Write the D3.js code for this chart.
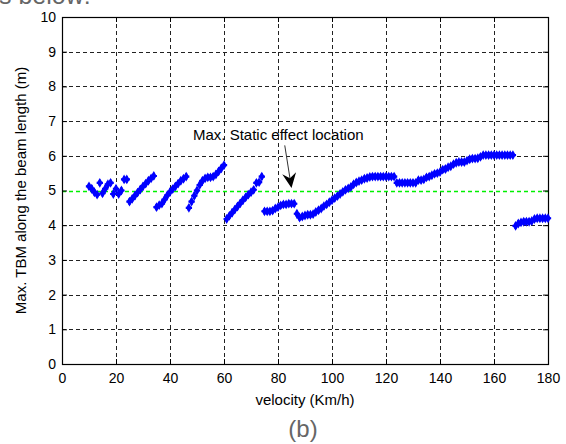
<!DOCTYPE html>
<html>
<head>
<meta charset="utf-8">
<script src="https://cdn.jsdelivr.net/npm/d3@7"></script>
<style>
  html, body { margin: 0; padding: 0; background: #fff; }
  svg { display: block; }
  text { font-family: Arial, "Liberation Sans", sans-serif; }
</style>
</head>
<body>
<svg id="chart" width="566" height="444"></svg>
<script>
// ---- data ----
const velocity = [
  10,11,12,13,14,15,16,17,18,19,20,21,22,23,24,25,26,27,28,29,
  30,31,32,33,34,35,36,37,38,39,40,41,42,43,44,45,46,47,48,49,
  50,51,52,53,54,55,56,57,58,59,60,61,62,63,64,65,66,67,68,69,
  70,71,72,73,74,75,76,77,78,79,80,81,82,83,84,85,86,87,88,89,
  90,91,92,93,94,95,96,97,98,99,100,101,102,103,104,105,106,107,108,109,
  110,111,112,113,114,115,116,117,118,119,120,121,122,123,124,125,126,127,128,129,
  130,131,132,133,134,135,136,137,138,139,140,141,142,143,144,145,146,147,148,149,
  150,151,152,153,154,155,156,157,158,159,160,161,162,163,164,165,166,167,168,169,
  170,171,172,173,174,175,176,177,178,179,180
];
const maxTBM = [
  5.12,5.05,4.95,4.88,5.22,4.92,5.05,5.18,5.22,4.90,5.05,4.90,5.00,5.32,5.32,4.68,4.76,4.85,4.94,5.03,
  5.12,5.20,5.28,5.35,5.42,4.52,4.58,4.62,4.74,4.86,4.96,5.04,5.12,5.20,5.28,5.34,5.40,4.50,4.68,4.85,
  5.00,5.16,5.28,5.35,5.38,5.38,5.40,5.46,5.55,5.64,5.73,4.18,4.27,4.36,4.45,4.54,4.63,4.72,4.80,4.88,
  4.95,5.02,5.22,5.24,5.40,4.40,4.40,4.40,4.42,4.48,4.52,4.57,4.60,4.60,4.62,4.62,4.62,4.33,4.22,4.25,
  4.28,4.30,4.30,4.32,4.38,4.43,4.48,4.55,4.60,4.66,4.72,4.78,4.84,4.90,4.96,5.02,5.06,5.10,5.18,5.23,
  5.27,5.30,5.34,5.36,5.39,5.40,5.40,5.40,5.40,5.40,5.40,5.40,5.40,5.40,5.22,5.22,5.22,5.22,5.22,5.22,
  5.22,5.22,5.30,5.30,5.32,5.38,5.40,5.44,5.48,5.50,5.53,5.60,5.62,5.67,5.70,5.76,5.80,5.82,5.82,5.82,
  5.86,5.90,5.92,5.92,5.93,5.97,6.02,6.02,6.02,6.02,6.02,6.02,6.02,6.02,6.02,6.02,6.02,6.02,3.98,4.05,
  4.08,4.10,4.10,4.10,4.12,4.18,4.20,4.20,4.20,4.20,4.20
];
const staticEffect = [5];
const xTicks = [0,20,40,60,80,100,120,140,160,180];
const yTicks = [0,1,2,3,4,5,6,7,8,9,10];
const xDomain = [0,180];
const yDomain = [0,10];
const annotationText = "Max. Static effect location";
const arrowFrom = [82.5, 6.3];
const arrowTo = [85, 5.07];
const xLabel = "velocity (Km/h)";
const yLabel = "Max. TBM along the beam length (m)";
const caption = "(b)";
const topText = "s below:";

// ---- layout ----
const L = 62, R = 548, T = 17, B = 364;
const svg = d3.select("#chart");
const x = d3.scaleLinear().domain(xDomain).range([L, R]);
const y = d3.scaleLinear().domain(yDomain).range([B, T]);

// top cut-off text (the reference shows only its lower part)
svg.append("text").attr("x", -1).attr("y", 4)
  .attr("font-family", "'Open Sans', 'Noto Sans', sans-serif")
  .attr("font-size", 25).attr("fill", "#666").text(topText);

// grid
const grid = svg.append("g").attr("stroke", "#222").attr("stroke-width", 1)
  .attr("stroke-dasharray", "4,3").attr("shape-rendering", "crispEdges");
grid.selectAll("line.v").data(xTicks.slice(1, -1)).enter().append("line")
  .attr("x1", d => Math.round(x(d)) + 0.5).attr("x2", d => Math.round(x(d)) + 0.5)
  .attr("y1", T).attr("y2", B);
grid.selectAll("line.h").data(yTicks.slice(1, -1)).enter().append("line")
  .attr("y1", d => Math.round(y(d)) + 0.5).attr("y2", d => Math.round(y(d)) + 0.5)
  .attr("x1", L).attr("x2", R);

// static effect line
svg.append("g").selectAll("line").data(staticEffect).enter().append("line")
  .attr("x1", L).attr("x2", R)
  .attr("y1", d => Math.round(y(d)) + 0.5).attr("y2", d => Math.round(y(d)) + 0.5)
  .attr("stroke", "#00f000").attr("stroke-width", 1.4).attr("stroke-dasharray", "4,3");

// axes
const xAxis = d3.axisBottom(x).tickValues(xTicks).tickSizeInner(-5).tickSizeOuter(0).tickPadding(9);
const yAxis = d3.axisLeft(y).tickValues(yTicks).tickSizeInner(-5).tickSizeOuter(0).tickPadding(6);
const gx = svg.append("g").attr("transform", `translate(0,${B})`).call(xAxis);
const gy = svg.append("g").attr("transform", `translate(${L},0)`).call(yAxis);
[gx, gy].forEach(g => {
  g.select(".domain").remove();
  g.selectAll(".tick line").attr("stroke", "#000");
  g.selectAll(".tick text").attr("font-size", 14).attr("fill", "#000")
    .attr("font-family", "Arial, 'Liberation Sans', sans-serif");
});
// top and right ticks
const gxt = svg.append("g").attr("transform", `translate(0,${T})`)
  .call(d3.axisTop(x).tickValues(xTicks).tickSizeInner(-5).tickSizeOuter(0).tickFormat(""));
const gyr = svg.append("g").attr("transform", `translate(${R},0)`)
  .call(d3.axisRight(y).tickValues(yTicks).tickSizeInner(-5).tickSizeOuter(0).tickFormat(""));
[gxt, gyr].forEach(g => { g.select(".domain").remove(); g.selectAll(".tick line").attr("stroke", "#000"); });

// box
svg.append("rect").attr("x", L + 0.5).attr("y", T + 0.5)
  .attr("width", R - L).attr("height", B - T)
  .attr("fill", "none").attr("stroke", "#000").attr("stroke-width", 1.2);

// data markers
const pts = velocity.map((v, i) => [v, maxTBM[i]]);
const mk = svg.append("g").attr("fill", "#0000ff");
mk.selectAll("path.d").data(pts).enter().append("path")
  .attr("transform", d => `translate(${x(d[0])},${y(d[1])})`)
  .attr("d", d3.symbol().type(d3.symbolDiamond).size(28));
mk.selectAll("path.c").data(pts).enter().append("path")
  .attr("transform", d => `translate(${x(d[0])},${y(d[1])})`)
  .attr("d", d3.symbol().type(d3.symbolCross).size(22));

// annotation
svg.append("text").attr("x", 193).attr("y", 140).attr("font-size", 15)
  .attr("fill", "#000").text(annotationText);
const ax0 = x(arrowFrom[0]), ay0 = y(arrowFrom[1]);
const ax1 = x(arrowTo[0]), ay1 = y(arrowTo[1]);
const dx = ax1 - ax0, dy = ay1 - ay0, len = Math.hypot(dx, dy);
const ux = dx / len, uy = dy / len, nx = -uy, ny = ux;
const HL = 15, HW = 7, NOTCH = 5;
svg.append("line").attr("x1", ax0).attr("y1", ay0)
  .attr("x2", ax1 - ux * (HL - NOTCH)).attr("y2", ay1 - uy * (HL - NOTCH))
  .attr("stroke", "#333").attr("stroke-width", 1);
const head = [
  [ax1, ay1],
  [ax1 - ux * HL + nx * HW, ay1 - uy * HL + ny * HW],
  [ax1 - ux * (HL - NOTCH), ay1 - uy * (HL - NOTCH)],
  [ax1 - ux * HL - nx * HW, ay1 - uy * HL - ny * HW]
];
svg.append("path").attr("d", d3.line()(head) + "Z").attr("fill", "#000");

// axis labels
svg.append("text").attr("x", (L + R) / 2).attr("y", 405).attr("text-anchor", "middle")
  .attr("font-size", 15).attr("fill", "#000").text(xLabel);
svg.append("text").attr("transform", `translate(26,${(T + B) / 2}) rotate(-90)`)
  .attr("text-anchor", "middle").attr("font-size", 15).attr("fill", "#000").text(yLabel);

// caption
svg.append("text").attr("x", 303).attr("y", 437).attr("text-anchor", "middle")
  .attr("font-family", "'Open Sans', 'Noto Sans', sans-serif")
  .attr("font-size", 24).attr("fill", "#666").text(caption);
</script>
</body>
</html>
